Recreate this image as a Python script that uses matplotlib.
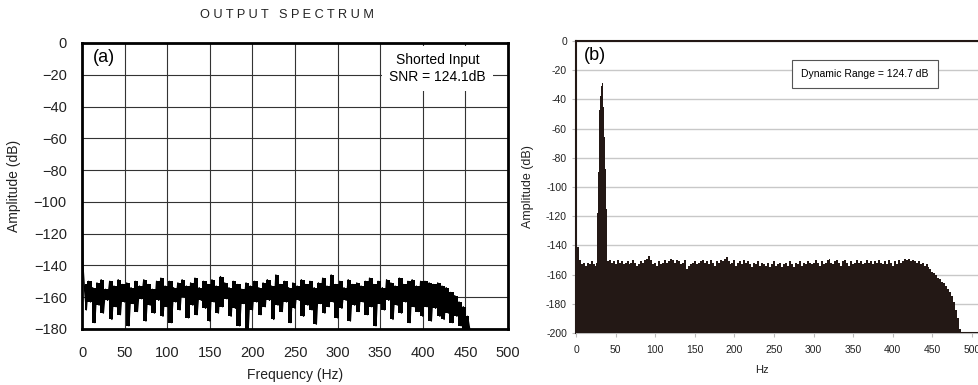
import numpy as np
import matplotlib
matplotlib.use('Agg')
import matplotlib.pyplot as plt

plt.rcParams['font.family'] = ['Liberation Sans', 'DejaVu Sans']

# ---- panel (a): shorted input noise spectrum ----
amp_a_start = [-105, -140]          # at 0 Hz and 1 Hz
amp_a_noise = [                     # 2.5 Hz steps from 2.5 Hz (peak, dip, peak, dip ...)
    -152, -168, -150, -163, -154, -176, -151, -165, -149, -170,
    -155, -162, -150, -174, -153, -166, -149, -171, -152, -163,
    -151, -178, -154, -164, -150, -169, -153, -161, -149, -175,
    -152, -165, -155, -170, -150, -162, -148, -172, -153, -166,
    -150, -176, -154, -163, -151, -168, -149, -160, -153, -173,
    -151, -165, -148, -171, -154, -162, -150, -167, -152, -175,
    -149, -163, -153, -170, -147, -166, -151, -161, -154, -172,
    -150, -167, -152, -178, -155, -164, -151, -180, -153, -168,
    -150, -163, -154, -171, -151, -166, -149, -162, -153, -174,
    -146, -165, -152, -169, -150, -163, -154, -176, -151, -167,
    -153, -162, -149, -172, -152, -165, -150, -168, -154, -177,
    -151, -164, -148, -170, -153, -166, -146, -163, -152, -173,
    -150, -167, -154, -162, -149, -175, -152, -165, -151, -169,
    -153, -163, -150, -171, -148, -166, -152, -178, -150, -164,
    -154, -168, -149, -162, -151, -174, -153, -165, -148, -170,
    -152, -163, -150, -176, -149, -166, -153, -169, -150, -172,
    -150, -166, -151, -175, -152, -167, -151, -172, -153, -174,
    -154, -170, -157, -176, -159, -172, -163, -178, -166, -180,
    -172, -180,
]
xticks_a = [0, 50, 100, 150, 200, 250, 300, 350, 400, 450, 500]
yticks_a = [0, -20, -40, -60, -80, -100, -120, -140, -160, -180]

# ---- panel (b): dynamic range spectrum ----
freq_b_low = [0, 2.5, 5, 7.5, 10, 12.5, 15, 17.5, 20, 22.5, 25,
              26, 27, 28, 29, 30, 31, 32, 33, 34, 35, 36, 37, 38, 39]
amp_b_low = [-128, -141, -150, -153, -152, -154, -152, -153, -151, -153, -154,
             -152, -118, -90, -68, -47, -38, -31, -29, -33, -45, -66, -88, -115, -150]
amp_b_floor = [                     # 2.5 Hz steps from 40 Hz
    -151, -150, -152, -151, -153, -150, -152, -151, -153, -152,
    -151, -153, -152, -150, -152, -154, -153, -151, -152, -150,
    -149, -147, -150, -153, -152, -154, -151, -153, -152, -150,
    -152, -151, -149, -150, -152, -150, -151, -153, -152, -150,
    -156, -154, -153, -152, -151, -153, -152, -151, -150, -152,
    -151, -153, -150, -152, -154, -151, -152, -150, -151, -149,
    -148, -151, -153, -152, -150, -154, -152, -151, -153, -150,
    -152, -151, -153, -155, -152, -153, -151, -154, -152, -153,
    -154, -152, -155, -153, -151, -154, -153, -152, -155, -153,
    -152, -154, -151, -153, -155, -152, -153, -151, -154, -152,
    -153, -151, -152, -153, -152, -150, -152, -154, -151, -153,
    -152, -150, -149, -152, -153, -151, -150, -152, -154, -151,
    -150, -152, -154, -151, -153, -152, -150, -152, -151, -153,
    -152, -150, -152, -151, -153, -151, -152, -150, -152, -153,
    -151, -153, -150, -152, -154, -151, -153, -150, -152, -151,
    -149, -150, -149, -151, -150, -151, -152, -151, -153, -152,
    -154, -153, -155, -156, -158, -159, -160, -162, -163, -165,
    -166, -168, -170, -172, -175, -179, -184, -190, -197, -200,
]
xticks_b = [0, 50, 100, 150, 200, 250, 300, 350, 400, 450, 500]
yticks_b = [0, -20, -40, -60, -80, -100, -120, -140, -160, -180, -200]

fig = plt.figure(figsize=(9.79, 3.85), dpi=100)

# ---------------- (a) ----------------
ax1 = fig.add_axes([0.0838, 0.1455, 0.4351, 0.7429])
freq_a = np.concatenate([[0, 1], 2.5 * np.arange(1, len(amp_a_noise) + 1)])
amp_a = np.concatenate([amp_a_start, amp_a_noise])
# dense band: peaks as upper edge, dips as lower edge
peaks = np.array(amp_a_noise[0::2])
dips = np.array(amp_a_noise[1::2])
band_f = freq_a[2::2] + 1.25
ax1.fill_between(band_f, peaks, dips, step='mid', color='black', lw=0, zorder=3)
ax1.plot(freq_a, amp_a, color='black', lw=1.0, zorder=3)
ax1.set_xlim(0, 500)
ax1.set_ylim(-180, 0)
ax1.set_xticks(xticks_a)
ax1.set_yticks(yticks_a)
ax1.set_yticklabels([str(v).replace('-', '\u2212') for v in yticks_a])
ax1.tick_params(length=0, labelsize=10.5, colors='#222222')
ax1.tick_params(axis='y', pad=11)
ax1.tick_params(axis='x', pad=12)
ax1.grid(True, color='#333333', lw=0.8)
for s in ax1.spines.values():
    s.set_linewidth(2)
    s.set_color('black')
    s.set_zorder(4)
ax1.set_ylabel('Amplitude (dB)', fontsize=10, color='#222222')
ax1.yaxis.set_label_coords(-0.143, 0.5)
ax1.set_xlabel('Frequency (Hz)', fontsize=10, color='#222222')
ax1.xaxis.set_label_coords(0.5, -0.137)
ax1.text(0.025, 0.95, '(a)', transform=ax1.transAxes, fontsize=13,
         va='center', ha='left')
ax1.text(0.835, 0.91, 'Shorted Input\nSNR = 124.1dB', transform=ax1.transAxes,
         fontsize=10, ha='center', va='center', linespacing=1.3,
         bbox=dict(facecolor='white', edgecolor='none', pad=5), zorder=5)

fig.text(0.293, 0.96, 'O U T P U T   S P E C T R U M', fontsize=9.2,
         ha='center', va='center', color='#222222')

# ---------------- (b) ----------------
ax2 = fig.add_axes([0.5884, 0.1351, 0.4207, 0.7584])
floor_freq = 40 + 2.5 * np.arange(len(amp_b_floor))
freq_b = np.concatenate([freq_b_low, floor_freq, [520]])
amp_b = np.concatenate([amp_b_low, amp_b_floor, [-200]])
ax2.fill_between(freq_b, amp_b, -200, step='mid', color='#231815', lw=0, zorder=3)
ax2.plot([floor_freq[-1], 520], [-200, -200], color='#231815', lw=1.5, zorder=3)
ax2.set_xlim(0, 520)
ax2.set_ylim(-200, 0)
ax2.set_xticks(xticks_b)
ax2.set_yticks(yticks_b)
ax2.set_yticklabels([str(v) for v in yticks_b])
ax2.set_xticklabels([str(v) for v in xticks_b])
ax2.tick_params(length=3, width=0.8, color='#bbbbbb', labelsize=7.5,
                labelcolor='#222222')
ax2.tick_params(axis='x', pad=6)
ax2.yaxis.grid(True, color='#c8c8c8', lw=1)
ax2.spines['left'].set_color('#231815')
ax2.spines['left'].set_linewidth(1.5)
ax2.spines['top'].set_color('#231815')
ax2.spines['top'].set_linewidth(1.5)
ax2.spines['bottom'].set_color('#bbbbbb')
ax2.spines['right'].set_visible(False)
ax2.set_ylabel('Amplitude (dB)', fontsize=9, color='#222222')
ax2.yaxis.set_label_coords(-0.102, 0.5)
ax2.set_xlabel('Hz', fontsize=8, color='#222222')
ax2.xaxis.set_label_coords(0.451, -0.11)
ax2.text(0.018, 0.95, '(b)', transform=ax2.transAxes, fontsize=13,
         va='center', ha='left')
ax2.text(0.702, 0.887, 'Dynamic Range = 124.7 dB', transform=ax2.transAxes,
         fontsize=7.5, ha='center', va='center',
         bbox=dict(facecolor='white', edgecolor='#555555', lw=0.8,
                   boxstyle='square,pad=0.9'), zorder=5)

fig.savefig('out.png', dpi=100)
